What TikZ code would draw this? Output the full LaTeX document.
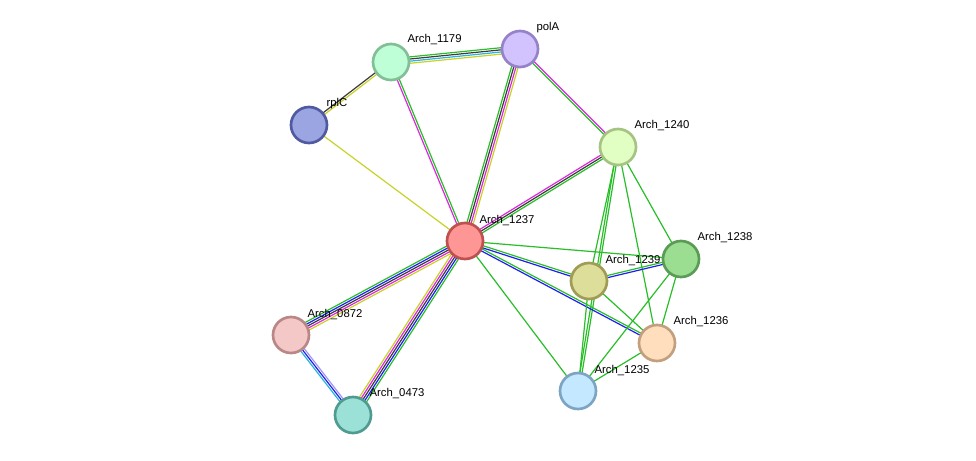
\documentclass[tikz,border=0pt]{standalone}
\usepackage{fontspec}
\setmainfont{Liberation Sans}
\usetikzlibrary{calc,backgrounds}

\tikzset{
	prot/.style={circle,minimum size=27pt,inner sep=0pt,line width=2pt},
	lab/.style={font=\fontsize{8.5}{10}\selectfont,anchor=south west,inner sep=1pt},
}
\definecolor{sgreen}{RGB}{40,190,40}
\definecolor{syellow}{RGB}{200,210,40}
\definecolor{smag}{RGB}{220,40,220}
\definecolor{sblue}{RGB}{30,30,240}
\definecolor{scyan}{RGB}{40,180,220}
\definecolor{sblack}{RGB}{60,60,60}
\definecolor{slav}{RGB}{160,150,240}

% parallel coloured lines between two nodes
\newcommand{\ppi}[3]{%
	\foreach \c [count=\i] in {#3} {\xdef\nl{\i}}%
	\foreach \c [count=\i] in {#3} {
		\pgfmathsetmacro{\off}{(\i-(\nl+1)/2)*1.6}
		\draw[\c,line width=0.9pt] ($(#1)!\off pt!90:(#2)$) -- ($(#2)!\off pt!-90:(#1)$);
	}%
}

\begin{document}
\begin{tikzpicture}[x=0.75pt,y=-0.75pt]
	\useasboundingbox (0,0) rectangle (976,461);
	\node[prot,fill={rgb,255:red,255;green,150;blue,150},draw={rgb,255:red,190;green,80;blue,80}] (a1237) at (465,241) {};
	\node[prot,fill={rgb,255:red,190;green,255;blue,215},draw={rgb,255:red,130;green,190;blue,150}] (a1179) at (391,62) {};
	\node[prot,fill={rgb,255:red,210;green,195;blue,255},draw={rgb,255:red,150;green,130;blue,200}] (pola) at (520,49) {};
	\node[prot,fill={rgb,255:red,155;green,165;blue,225},draw={rgb,255:red,80;green,90;blue,160}] (rplc) at (309,125) {};
	\node[prot,fill={rgb,255:red,225;green,255;blue,195},draw={rgb,255:red,165;green,195;blue,130}] (a1240) at (618,147) {};
	\node[prot,fill={rgb,255:red,155;green,222;blue,145},draw={rgb,255:red,90;green,155;blue,85}] (a1238) at (681,259) {};
	\node[prot,fill={rgb,255:red,222;green,222;blue,155},draw={rgb,255:red,160;green,155;blue,85}] (a1239) at (589,281) {};
	\node[prot,fill={rgb,255:red,255;green,222;blue,190},draw={rgb,255:red,195;green,160;blue,125}] (a1236) at (657,343) {};
	\node[prot,fill={rgb,255:red,195;green,232;blue,255},draw={rgb,255:red,125;green,165;blue,195}] (a1235) at (578,391) {};
	\node[prot,fill={rgb,255:red,245;green,200;blue,200},draw={rgb,255:red,185;green,135;blue,135}] (a0872) at (291,335) {};
	\node[prot,fill={rgb,255:red,155;green,225;blue,215},draw={rgb,255:red,80;green,155;blue,145}] (a0473) at (353,415) {};
	%
	\node[lab] at (478,227) {Arch\_1237};
	\node[lab] at (406,46) {Arch\_1179};
	\node[lab] at (535,34) {polA};
	\node[lab] at (325,110) {rplC};
	\node[lab] at (633,132) {Arch\_1240};
	\node[lab] at (696,244) {Arch\_1238};
	\node[lab] at (604,267) {Arch\_1239};
	\node[lab] at (672,328) {Arch\_1236};
	\node[lab] at (593,377) {Arch\_1235};
	\node[lab] at (306,321) {Arch\_0872};
	\node[lab] at (368,400) {Arch\_0473};
	%
	\begin{pgfonlayer}{background}
		\ppi{a1179}{pola}{syellow,scyan,sblack,sgreen}
		\ppi{a1179}{rplc}{sblack,syellow}
		\ppi{a1179}{a1237}{smag,sgreen}
		\ppi{pola}{a1237}{sgreen,sblack,smag,syellow}
		\ppi{pola}{a1240}{sgreen,smag}
		\ppi{rplc}{a1237}{syellow}
		\ppi{a1240}{a1237}{smag,sblack,sgreen}
		\ppi{a1240}{a1239}{sgreen}
		\ppi{a1240}{a1235}{sgreen,sgreen}
		\ppi{a1240}{a1236}{sgreen}
		\ppi{a1240}{a1238}{sgreen}
		\ppi{a1237}{a1238}{sgreen}
		\ppi{a1237}{a1239}{sblue,sgreen}
		\ppi{a1237}{a1236}{sblue,sgreen}
		\ppi{a1237}{a1235}{sgreen}
		\ppi{a1237}{a0872}{sgreen,sblue,sblack,smag,syellow}
		\ppi{a1237}{a0473}{syellow,smag,sblack,sblue,sgreen}
		\ppi{a0872}{a0473}{scyan,sblue,slav}
		\ppi{a1239}{a1238}{sblue,sgreen}
		\ppi{a1239}{a1236}{sgreen}
		\ppi{a1239}{a1235}{sgreen}
		\ppi{a1238}{a1235}{sgreen}
		\ppi{a1238}{a1236}{sgreen}
		\ppi{a1236}{a1235}{sgreen}
	\end{pgfonlayer}
\end{tikzpicture}
\end{document}
